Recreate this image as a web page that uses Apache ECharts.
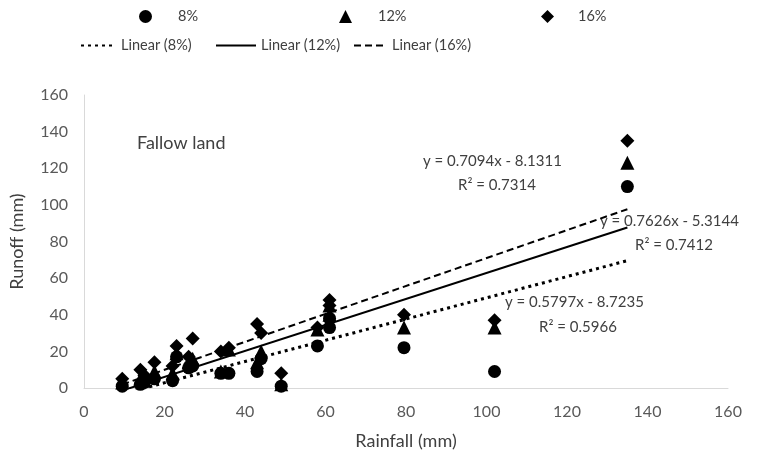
<!DOCTYPE html>
<html>
<head>
<meta charset="utf-8">
<script src="https://cdn.jsdelivr.net/npm/echarts@6/dist/echarts.min.js"></script>
<style>
    html, body { margin: 0; padding: 0; background: #fff; }
    #main { width: 763px; height: 457px; }
</style>
</head>
<body>
<div id="main"></div>
<script>
    // rainfall events (mm) and runoff (mm) per slope
    var rainfall = [9.5, 14, 15, 17.5, 22, 23, 26, 27, 34, 36, 43, 44, 49, 58, 61, 61, 79.5, 102, 135];
    var runoff8 = [1, 2, 3, 5, 4, 17, 11, 12, 8, 8, 9, 16, 1, 23, 33, 38, 22, 9, 110];
    var runoff12 = [3, 5, 4, 9, 8, 19, 14, 16, 9, 21, 14, 20, 2, 32, 40, 45, 33, 33, 123];
    var runoff16 = [5, 10, 7, 14, 12, 23, 17, 27, 20, 22, 35, 30, 8, 33, 48, 45, 40, 37, 135];

    var slopeNames = ['8%', '12%', '16%'];
    // trend line coefficients (slope, intercept, R²)
    var trendSlope = [0.5797, 0.7094, 0.7626];
    var trendIntercept = [-8.7235, -8.1311, -5.3144];
    var trendR2 = [0.5966, 0.7314, 0.7412];
    var axisTicks = [0, 20, 40, 60, 80, 100, 120, 140, 160];

    var FONT = 'Lato, "Open Sans", sans-serif';
    var txt = '#404040';

    function pairs(xs, ys) {
        return xs.map(function(x, i) { return [x, ys[i]]; });
    }
    function trend(i) {
        var lo = Math.min.apply(null, rainfall), hi = Math.max.apply(null, rainfall);
        return [lo, hi].map(function(x) { return [x, trendSlope[i] * x + trendIntercept[i]]; });
    }
    function eq(i) {
        return 'y = ' + trendSlope[i].toFixed(4) + 'x - ' + Math.abs(trendIntercept[i]).toFixed(4);
    }

    var symbols = ['circle', 'triangle', 'diamond'];
    var symSize = [13, 14, 14];
    var runoffs = [runoff8, runoff12, runoff16];
    var lineTypes = [[3, 4], 'solid', [7, 4]];
    var lineWidths = [3, 2, 2];

    var series = [];
    slopeNames.forEach(function(name, i) {
        series.push({
            name: name,
            type: 'scatter',
            symbol: symbols[i],
            symbolSize: symSize[i],
            itemStyle: { color: '#000', opacity: 1 },
            data: pairs(rainfall, runoffs[i]),
            z: 3
        });
    });
    slopeNames.forEach(function(name, i) {
        series.push({
            name: 'Linear (' + name + ')',
            type: 'line',
            symbol: 'none',
            lineStyle: { color: '#000', width: lineWidths[i], type: lineTypes[i] },
            itemStyle: { color: '#000' },
            data: trend(i),
            z: 2
        });
    });

    // one legend per item so each sits where the original has it
    // [left, top, itemWidth, gap before text]
    var legendPos = [
        [139, 9, 13, 21], [339, 9, 13, 21], [541, 9, 13, 19],
        [80, 38, 35, 0], [215, 38, 40, 0], [353, 38, 33, 0]
    ];
    var legendNames = slopeNames.concat(slopeNames.map(function(n) { return 'Linear (' + n + ')'; }));
    var legends = legendNames.map(function(n, k) {
        var isLine = k >= 3;
        var gap = legendPos[k][3];
        return {
            data: [n],
            left: legendPos[k][0],
            top: legendPos[k][1],
            padding: 0,
            itemWidth: legendPos[k][2],
            itemHeight: 13,
            itemGap: 0,
            selectedMode: false,
            itemStyle: isLine ? { opacity: 0 } : { opacity: 1 },
            formatter: function(name) { return gap ? '{gap|}' + name : name; },
            textStyle: { fontFamily: FONT, fontSize: 14.5, color: txt, rich: { gap: { width: gap } } }
        };
    });

    var chart = echarts.init(document.getElementById('main'));
    var option = {
        animation: false,
        backgroundColor: '#fff',
        legend: legends,
        grid: { left: 82, right: 35, top: 95, bottom: 69 },
        xAxis: {
            type: 'value',
            min: axisTicks[0],
            max: axisTicks[axisTicks.length - 1],
            interval: 20,
            name: 'Rainfall (mm)',
            nameLocation: 'middle',
            nameGap: 44,
            nameTextStyle: { fontFamily: FONT, fontSize: 18, color: txt },
            axisLine: { lineStyle: { color: '#d9d9d9' } },
            axisTick: { show: false },
            splitLine: { show: false },
            axisLabel: { fontFamily: FONT, fontSize: 16, color: '#595959', margin: 16 }
        },
        yAxis: {
            type: 'value',
            min: axisTicks[0],
            max: axisTicks[axisTicks.length - 1],
            interval: 20,
            name: 'Runoff (mm)',
            nameLocation: 'middle',
            nameGap: 58,
            nameTextStyle: { fontFamily: FONT, fontSize: 18, color: txt },
            axisLine: { show: true, lineStyle: { color: '#d9d9d9' } },
            axisTick: { show: false },
            splitLine: { show: false },
            axisLabel: { fontFamily: FONT, fontSize: 16, color: '#595959', margin: 16 }
        },
        graphic: [
            { type: 'text', left: 137, top: 134, style: { text: 'Fallow land', font: '18px ' + FONT, fill: txt } },
            { type: 'text', left: 423, top: 154, style: { text: eq(1), font: '15px ' + FONT, fill: txt } },
            { type: 'text', left: 458, top: 178, style: { text: 'R² = ' + trendR2[1].toFixed(4), font: '15px ' + FONT, fill: txt } },
            { type: 'text', left: 600, top: 214, style: { text: eq(2), font: '15px ' + FONT, fill: txt } },
            { type: 'text', left: 635, top: 238, style: { text: 'R² = ' + trendR2[2].toFixed(4), font: '15px ' + FONT, fill: txt } },
            { type: 'text', left: 505, top: 295, style: { text: eq(0), font: '15px ' + FONT, fill: txt } },
            { type: 'text', left: 539, top: 320, style: { text: 'R² = ' + trendR2[0].toFixed(4), font: '15px ' + FONT, fill: txt } }
        ],
        series: series
    };
    chart.setOption(option);
</script>
</body>
</html>
